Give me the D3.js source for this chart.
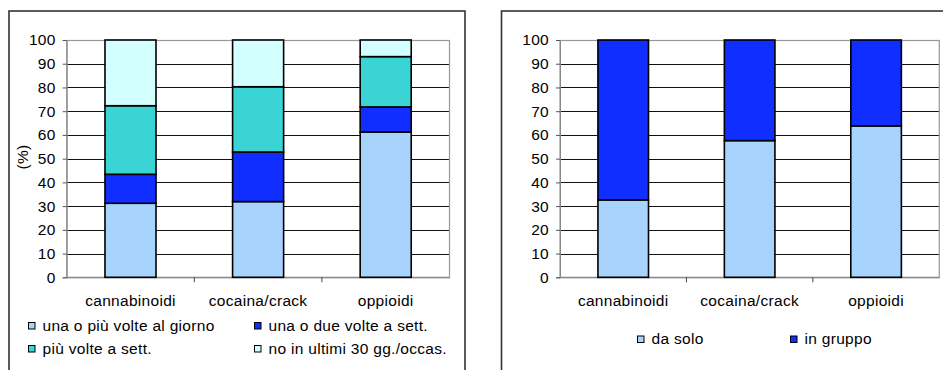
<!DOCTYPE html>
<html><head><meta charset="utf-8">
<script src="https://cdn.jsdelivr.net/npm/d3@7"></script>
<style>
html,body{margin:0;padding:0;background:#fff;}
svg{display:block;font-family:"Liberation Sans",Arial,sans-serif;}
text{letter-spacing:0.3px;}
</style></head>
<body>
<svg id="c" width="943" height="370"></svg>
<script>
const categories = ["cannabinoidi", "cocaina/crack", "oppioidi"];
const yTicks = [0,10,20,30,40,50,60,70,80,90,100];
// left chart: frequency of use
const freqSeries = ["una o più volte al giorno", "una o due volte a sett.", "più volte a sett.", "no in ultimi 30 gg./occas."];
const freqDaily = [31.2, 31.9, 61.2];
const freqOnceTwice = [12.2, 20.9, 10.6];
const freqSeveral = [28.9, 27.5, 21.2];
const freqNone = [27.7, 19.7, 7.0];
// right chart: context of use
const ctxSeries = ["da solo", "in gruppo"];
const ctxAlone = [32.6, 57.6, 63.8];
const ctxGroup = [67.4, 42.4, 36.2];

const colFreq = ["#a8d3fd", "#0f2eff", "#3ad4d4", "#d4ffff"];
const colCtx = ["#a8d3fd", "#0f2eff"];

const svg = d3.select("#c");
const FS = 15.5;

function panel(cfg) {
  const g = svg.append("g");
  g.append("rect").attr("x", cfg.bx).attr("y", 11).attr("width", 456).attr("height", 400)
    .attr("fill", "#fff").attr("stroke", "#333").attr("stroke-width", 1.6);
  const x = d3.scaleBand().domain(categories).range([cfg.px0, cfg.px1]).paddingInner(0).paddingOuter(0);
  const y = d3.scaleLinear().domain([0, 100]).range([277.3, 40]);
  g.append("g").selectAll("line").data(yTicks.filter(t => t > 0 && t < 100)).join("line")
    .attr("x1", cfg.px0).attr("x2", cfg.px1)
    .attr("y1", d => Math.round(y(d)) + 0.5).attr("y2", d => Math.round(y(d)) + 0.5)
    .attr("stroke", "#111").attr("stroke-width", 1.1);
  g.append("rect").attr("x", cfg.px0).attr("y", Math.round(y(100)) + 0.5)
    .attr("width", cfg.px1 - cfg.px0).attr("height", y(0) - y(100))
    .attr("fill", "none").attr("stroke", "#999").attr("stroke-width", 1.2);
  const ya = g.append("g").attr("transform", `translate(${cfg.px0},0)`)
    .call(d3.axisLeft(y).tickValues(yTicks).tickSize(4).tickPadding(7));
  ya.select(".domain").attr("stroke", "#888");
  ya.selectAll(".tick line").attr("stroke", "#555");
  ya.selectAll("text").attr("font-size", FS).attr("font-family", "Liberation Sans, Arial, sans-serif").attr("fill", "#000");
  const xa = g.append("g").attr("transform", `translate(0,${y(0)})`);
  xa.append("line").attr("x1", cfg.px0).attr("x2", cfg.px1).attr("stroke", "#888").attr("stroke-width", 1.2);
  xa.selectAll(".bt").data(categories.slice(1)).join("line")
    .attr("x1", d => x(d)).attr("x2", d => x(d)).attr("y1", 0).attr("y2", 5).attr("stroke", "#444");
  xa.selectAll("text").data(categories).join("text")
    .attr("x", d => x(d) + x.bandwidth() / 2).attr("y", 28.5)
    .attr("text-anchor", "middle").attr("font-size", FS).text(d => d);
  const rows = categories.map((c, i) => {
    const o = {cat: c};
    cfg.series.forEach((s, j) => o[s] = cfg.values[j][i]);
    return o;
  });
  const stack = d3.stack().keys(cfg.series)(rows);
  const bw = x.bandwidth() * 0.4;
  stack.forEach((layer, j) => {
    g.append("g").selectAll("rect").data(layer).join("rect")
      .attr("x", d => x(d.data.cat) + (x.bandwidth() - bw) / 2)
      .attr("width", bw)
      .attr("y", d => y(d[1]))
      .attr("height", d => y(d[0]) - y(d[1]))
      .attr("fill", cfg.colors[j]).attr("stroke", "#000").attr("stroke-width", 1.6);
  });
  if (cfg.ylabel) {
    g.append("text").attr("transform", `translate(28,157) rotate(-90)`)
      .attr("text-anchor", "middle").attr("font-size", FS).text(cfg.ylabel);
  }
  const lg = g.append("g");
  cfg.legend.forEach((it, j) => {
    lg.append("rect").attr("x", it.x).attr("y", it.y - 8).attr("width", 6.5).attr("height", 6.5)
      .attr("fill", cfg.colors[j]).attr("stroke", "#000").attr("stroke-width", 1);
    lg.append("text").attr("x", it.x + 14).attr("y", it.y).attr("font-size", FS).text(cfg.series[j]);
  });
}

panel({
  bx: 9, px0: 66.7, px1: 449.5,
  series: freqSeries, values: [freqDaily, freqOnceTwice, freqSeveral, freqNone], colors: colFreq,
  ylabel: "(%)",
  legend: [{x: 28.5, y: 330.5}, {x: 254.5, y: 330.5}, {x: 28.5, y: 353.5}, {x: 254.5, y: 353.5}]
});
panel({
  bx: 501.5, px0: 560, px1: 939.3,
  series: ctxSeries, values: [ctxAlone, ctxGroup], colors: colCtx,
  ylabel: null,
  legend: [{x: 637.5, y: 344}, {x: 790.5, y: 344}]
});
</script>
</body></html>
